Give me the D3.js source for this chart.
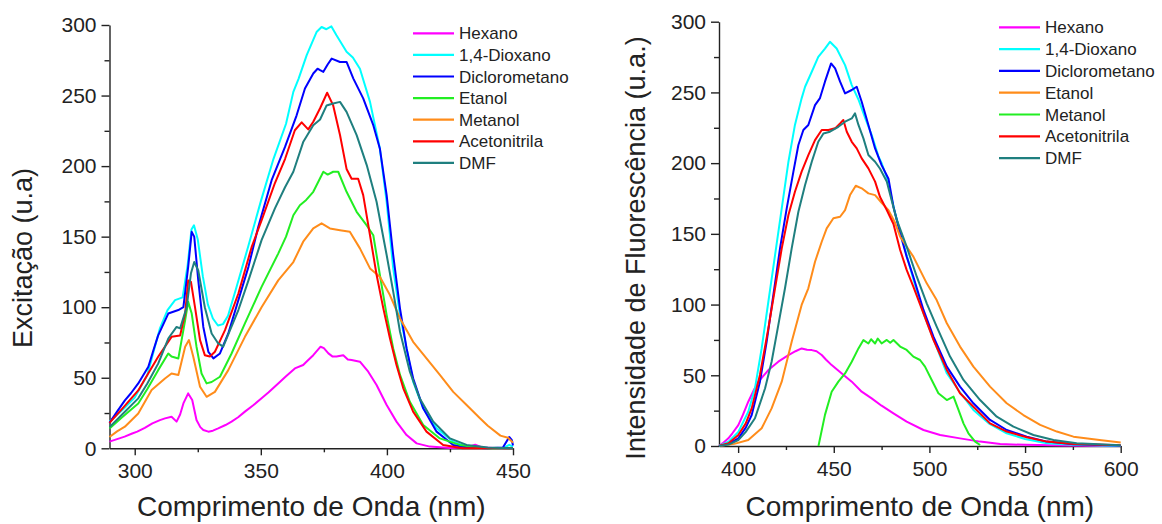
<!DOCTYPE html>
<html lang="pt">
<head>
  <meta charset="UTF-8">
  <script src="https://d3js.org/d3.v7.min.js"></script>
  <title>Excitação e Fluorescência</title>
  <style>
    body { margin: 0; background: #fff; }
    svg { display: block; font-family: "Liberation Sans", Arial, sans-serif; }
    .axis path, .axis line { stroke: #222; stroke-width: 1.4px; }
    .axis text { fill: #222; font-size: 21px; font-family: "Liberation Sans", Arial, sans-serif; }
    .curve { fill: none; stroke-width: 2px; stroke-linejoin: round; }
  </style>
</head>
<body>
<div id="wrapper"></div>
<script>
// ---- dados: excitação (esquerda) ----
const exHexano = [[290,4.7],[293,6.5],[296,8.3],[299,10.5],[301,11.8],[304,14.5],[307,17.7],[310,20],[312,21.2],[314.6,22.4],[316.6,18.9],[318,24],[319.3,31.8],[321.2,38.9],[322.8,34.2],[324.5,20],[326,15],[327.2,13],[329.2,11.8],[331,12.5],[333.1,14.1],[336,16.5],[338.4,18.9],[341,22],[343.7,26],[347,30.5],[350.3,35.4],[353,39.5],[356.9,46],[360,51],[363.5,56.6],[366.8,59],[368.5,62],[370.8,66],[373.7,72],[375,71],[376.8,67.3],[378.5,65],[380,65],[382.7,66],[384.5,63],[386,62.6],[389.3,61.4],[392.6,54.3],[395.9,44.9],[399.9,30.7],[403.8,18.9],[407.8,9.4],[411.8,3.5],[417,1.2],[425,0.3],[432,0.8],[435,2.5],[438,0.5],[445,0],[450,0]];
const exDioxano = [[290,19],[295,27],[300,36],[305,52],[308,72],[310,85],[313,98],[316,105],[319,107],[321,130],[322.5,155],[323.5,158],[325,148],[327,122],[329,102],[331,92],[333,87],[335,88],[337,94],[340,112],[345,143],[350,175],[355,205],[360,230],[362.9,252.6],[365,262],[368.2,278.6],[372.1,295],[374.1,298.6],[376,297],[378,299],[380,292.7],[384,281],[386.5,277],[389.3,269],[393.3,245.5],[397.2,212.5],[399.9,174.7],[402.5,127.5],[405.2,94.4],[407.8,70.8],[410.4,47.2],[414.4,28.3],[419.7,14.2],[426.3,4.7],[431.6,1.2],[440,0],[446,0],[448.5,2.5],[450,1]];
const exDiclorometano = [[290,18],[293,26],[296.1,34],[298.5,39],[301.4,46],[305.4,57.8],[307.5,70],[309.3,80],[313.3,95.5],[317.3,98],[319.3,100],[321.2,128.6],[322.6,153.4],[323.6,150],[325.2,119],[327.2,86],[329.2,68.4],[331.2,63.7],[333.8,67.2],[337.1,81.4],[341.1,105],[345.1,128.6],[349,157],[354.3,190],[359.6,213.6],[364.2,236],[367.5,255],[370.8,265.6],[372.5,269],[373.5,268],[374.8,266.8],[376.5,272],[378.1,276.2],[381.4,273.8],[384,273.8],[386.7,262],[390.6,248],[394.6,229],[397.2,212.5],[399.9,179.4],[402.5,137],[405.2,99],[407.8,70.8],[410.4,49.6],[414.4,28.3],[419.7,11.8],[426.3,2.4],[432,0.5],[440,0],[446,0.5],[448.5,8],[449.5,6],[450,2]];
const exEtanol = [[290,14],[295,22],[301.4,31.8],[305,42],[309.3,55.4],[313.3,67.2],[314.6,65],[317.3,63.7],[320,90.8],[321.2,103.8],[322.6,95.5],[324.5,72],[326.5,53],[328.5,46],[330.5,47],[333.8,50.7],[338.4,67.2],[343.7,88.5],[350.3,114.4],[356.9,138],[360,150],[362.9,165.2],[365.5,172.3],[368,176],[370.8,181.8],[374.8,196],[376.5,194],[378.7,196],[380.7,196],[384,181.8],[388,167.6],[392,158],[394.6,151],[397.2,123],[399.9,94.4],[402.5,70.8],[405.2,52],[409.1,33],[414.4,16.5],[421,7],[428.9,2.4],[440,0],[450,0]];
const exMetanol = [[290,8],[293,12],[296.1,15.3],[301.4,24.7],[306.7,41.3],[312,49.5],[314.6,53],[317.3,52],[320,72],[321.5,76.7],[323.2,65],[325.9,43.6],[328.5,36.5],[331.8,40],[337.1,55.4],[343.7,79],[350.3,100],[356.9,119],[362.9,132],[366.8,146.4],[370.8,155.8],[374.1,159.4],[377.4,155.8],[381.4,154.6],[385.3,153.5],[389.3,141.7],[393.3,127.5],[397.2,121.6],[401.2,108.6],[405.2,92],[410.4,75.5],[415.7,63.7],[421,52],[426.3,40],[431.6,30.7],[436.9,21.3],[440,16],[445,9],[448,7.5],[450,4]];
const exAcetonitrila = [[290,18],[295,28],[301.4,41],[305,52],[309.3,64.9],[314.6,79],[318,80],[320,95.5],[321.2,119],[322.3,118],[323.9,100],[325.9,76.7],[327.8,66],[329.8,65],[331.8,68.4],[335.8,83.7],[341.1,109.7],[346.4,142.8],[350.3,161.6],[355.6,188],[359.6,205],[363.5,225.4],[366.2,231],[368.8,226],[370.8,231.4],[373.5,241],[376.3,252],[378.7,243],[381.4,222],[384,198],[386,191],[388.6,191],[390.6,179.4],[393.3,151],[395.9,123],[398.6,99],[401.2,78],[403.8,59],[406.5,42.5],[410.4,26],[415.7,11.8],[422.3,2.4],[430,0],[450,0]];
const exDMF = [[290,15],[295,24],[301.4,35.4],[305,46],[309.3,60],[313.3,77.8],[316.6,86],[318,85],[320.6,100],[322.3,124],[323.6,132],[325.2,126],[327.8,100],[330.5,81.4],[333.1,74.3],[335.1,72],[337.8,83.7],[341.1,98],[345.1,119],[350.3,147.5],[355.6,170],[359.6,185],[362.9,196],[366.8,217],[370.8,229],[373.5,233],[376.1,243],[378.7,244.4],[381.4,245.5],[384,238.4],[388,222],[392,200.7],[395.9,174.7],[399.9,137],[402.5,111],[405.2,82.6],[409.1,54.3],[413,35.4],[418.4,18.9],[425,7],[431.6,2.4],[440,0.5],[450,0]];

// ---- dados: fluorescência (direita) ----
const flHexano = [[390,0],[392,2],[394.9,5.4],[397,9],[400.1,14.8],[402.5,22],[405.3,31.3],[408,39],[410.6,45.5],[415.8,53.7],[421,59.6],[426.3,64.3],[430,67],[433.2,69],[436,68],[438.5,67.8],[441,67],[443.7,64.3],[446,61],[448.9,57.2],[454.2,51.3],[459.4,45.5],[464.6,38.4],[469.8,33.7],[475,28.5],[481.2,23.1],[488.1,17.2],[496.9,11.3],[505.6,7.8],[516,5.4],[526.5,3.1],[537,1.4],[550,0.8],[570,0.3],[600,0]];
const flDioxano = [[390,0],[395,3],[400.1,10],[405.3,24.2],[408.8,40.8],[412.3,69],[415.8,102],[419.3,135],[422.8,168],[426.3,201],[429.7,227],[433.2,245.8],[435,254],[438.5,264.6],[441.9,275.2],[445.4,281],[448,285.8],[451.5,281],[455.9,269.3],[459.4,255.2],[462.9,245],[466.4,232],[469.8,220],[473.3,205],[475,200],[477.7,190],[482,165],[485,150],[491.6,118],[496.9,93.8],[502,76],[509.1,51.4],[516,38],[523,25.5],[531,16],[540.4,9],[550,5],[561.4,1.9],[575,0.8],[600,0]];
const flDiclorometano = [[390,0],[395,1.5],[400.1,5.4],[404,13],[407.1,21.9],[411.4,45.5],[414.9,73.7],[418.4,106.7],[421.9,139.7],[425.4,168],[428.9,194],[431.5,212.8],[434.1,223.4],[436.7,227],[440.2,241],[442.8,246],[445.4,257.6],[448.6,270.5],[450.7,267],[453.3,257.6],[455.9,249.3],[459.4,251.7],[462,254],[464.6,243.4],[468.1,227],[471.6,210.4],[475,198.6],[478.6,189],[481.2,169.2],[484.7,150.4],[488.1,133.9],[491.6,119.7],[496.9,96.2],[502.1,77.3],[509.1,56.1],[516,42],[523,30.2],[531.7,18.4],[540.4,11.3],[550.9,6.6],[561.4,3.1],[575.3,1.2],[600,0.3]];
const flEtanol = [[390,0],[398,1.5],[405.3,4.2],[412.3,12.5],[417.5,26.6],[422.8,45.5],[428,73.7],[433.2,99.7],[436.7,111.5],[440.2,130.3],[443.7,144.4],[446.3,153.9],[449.8,161],[453.3,162.1],[455.9,166.8],[458.5,177.4],[461.5,184],[464.6,182.2],[468.1,178.6],[471.6,177.4],[475,172],[478.6,166.8],[482,158],[484.7,148],[491.6,133.9],[498.6,115],[503.8,103.2],[509.1,86.8],[516,70.3],[523,56.1],[531.7,42],[540.4,30.2],[549.1,21.9],[557.9,14.9],[566.6,10.2],[575.3,6.6],[590,4],[600,2.5]];
const flMetanol = [[442,0],[445.4,22],[448.9,38.4],[452.4,45.5],[455.9,51.3],[459.4,59.6],[462.9,69],[465.5,74.9],[468.1,72.5],[469.5,75.5],[471.6,72.5],[473,76],[475,72.5],[477.7,75],[479.5,73],[481.2,75],[484.7,70.3],[488.1,67.9],[491.6,63.2],[495.1,60.8],[497.7,56.1],[501.2,46.7],[504.7,37.3],[509.1,32.5],[512.6,34.9],[515.2,25.5],[517.8,16],[520.4,9],[523.9,3.1],[526.5,0.7]];
const flAcetonitrila = [[390,0],[395,2],[400.1,7.8],[404,16],[407.1,26.6],[411.4,50.2],[415.8,83.2],[419.3,111.5],[422.8,139.7],[426.3,163.3],[429.7,179.8],[433.2,194],[436.7,205.7],[440.2,216.3],[443.7,223.4],[447.2,223.4],[450.7,224.6],[453.3,228.1],[455,230.5],[456.8,222.2],[459.4,215.1],[462,210.4],[464.6,203.4],[468.1,196.3],[471.6,186.9],[474.2,176],[477.7,166.9],[481.2,157],[484.7,138.6],[488.1,124.5],[491.6,112.7],[496.9,93.8],[502.1,75],[509.1,53.8],[516,37.3],[523,27.8],[531.7,16],[540.4,10.2],[550.9,6.2],[561.4,3.1],[575.3,1.4],[600,0.5]];
const flDMF = [[390,0],[395,1],[400.1,4.2],[404,10],[408.8,19.6],[414.1,40.8],[417.5,59.6],[421,85.5],[424.5,111.5],[428,139.7],[431.5,165.6],[435,184.5],[438.5,201],[441.9,215.1],[444.6,221],[448,222.2],[452.4,225.7],[455.9,229.3],[459.4,231.6],[461.1,235.2],[462.9,227],[465.5,217.5],[468.1,205.7],[471.6,201],[474.2,196],[477.7,187],[482.9,160],[488.1,141],[493.4,119.7],[498.6,100.9],[503.8,84.4],[510.8,63.2],[517.8,46.7],[526.5,32.5],[535.2,20.7],[543.9,13.7],[554.4,7.8],[564.9,4.2],[577,1.9],[600,0.5]];

const exNames = ["Hexano", "1,4-Dioxano", "Diclorometano", "Etanol", "Metanol", "Acetonitrila", "DMF"];
const exSeries = [exHexano, exDioxano, exDiclorometano, exEtanol, exMetanol, exAcetonitrila, exDMF];
const exColors = ["#ff00ff", "#00ffff", "#0000ff", "#22ee22", "#ff8c1a", "#ff0000", "#1f7f7f"];

const flNames = ["Hexano", "1,4-Dioxano", "Diclorometano", "Etanol", "Metanol", "Acetonitrila", "DMF"];
const flSeries = [flHexano, flDioxano, flDiclorometano, flEtanol, flMetanol, flAcetonitrila, flDMF];
const flColors = ["#ff00ff", "#00ffff", "#0000ff", "#ff8c1a", "#22ee22", "#ff0000", "#1f7f7f"];

const yTicks = [0, 50, 100, 150, 200, 250, 300];

const svg = d3.select("#wrapper")
  .append("svg")
  .attr("width", 1162)
  .attr("height", 524)

function drawPanel(opt) {
  const x = d3.scaleLinear().domain(opt.xDomain).range([opt.left, opt.right])
  const y = d3.scaleLinear().domain([0, 300]).range([opt.bottom, opt.top])
  const g = svg.append("g")

  // minor ticks first, then major axes on top
  g.append("g").attr("class", "axis")
    .attr("transform", `translate(0,${opt.bottom})`)
    .call(d3.axisBottom(x).tickValues(opt.xMinor).tickSize(4).tickFormat(""))
    .select(".domain").remove()
  g.append("g").attr("class", "axis")
    .attr("transform", `translate(${opt.left},0)`)
    .call(d3.axisLeft(y).tickValues(d3.range(25, 300, 50)).tickSize(5).tickFormat(""))
    .select(".domain").remove()

  g.append("g").attr("class", "axis")
    .attr("transform", `translate(0,${opt.bottom})`)
    .call(d3.axisBottom(x).tickValues(opt.xTicks).tickSize(7).tickPadding(8).tickSizeOuter(0))
  g.append("g").attr("class", "axis")
    .attr("transform", `translate(${opt.left},0)`)
    .call(d3.axisLeft(y).tickValues(yTicks).tickSize(8).tickPadding(5).tickSizeOuter(0))

  const line = d3.line().x(d => x(d[0])).y(d => y(d[1]))
  opt.series.forEach((s, i) => {
    g.append("path")
      .attr("class", "curve")
      .attr("d", line(s))
      .attr("stroke", opt.colors[i])
  })

  // legend
  const leg = g.append("g")
  opt.names.forEach((n, i) => {
    const yy = opt.legY + i * opt.legStep
    leg.append("line")
      .attr("x1", opt.legX).attr("x2", opt.legX + 41)
      .attr("y1", yy).attr("y2", yy)
      .attr("stroke", opt.colors[i]).attr("stroke-width", 2.2)
    leg.append("text")
      .attr("x", opt.legX + 46).attr("y", yy)
      .attr("dy", "0.36em")
      .style("font-size", "17px").attr("fill", "#222")
      .text(n)
  })

  // axis titles
  g.append("text")
    .attr("x", (opt.left + opt.right) / 2).attr("y", 516)
    .attr("text-anchor", "middle")
    .style("font-size", "28px").attr("fill", "#222")
    .text("Comprimento de Onda (nm)")
  g.append("text")
    .attr("transform", `translate(${opt.yTitleX},${opt.yTitleY}) rotate(-90)`)
    .attr("text-anchor", "middle")
    .style("font-size", "27px").attr("fill", "#222")
    .text(opt.yTitle)
}

drawPanel({
  xDomain: [290, 450], left: 109.5, right: 513, top: 25, bottom: 448.3,
  xTicks: [300, 350, 400, 450], xMinor: [325, 375, 425],
  series: exSeries, colors: exColors, names: exNames,
  legX: 413, legY: 33.3, legStep: 21.6,
  yTitleX: 32, yTitleY: 258, yTitle: "Excitação (u.a)"
})

drawPanel({
  xDomain: [390, 600], left: 719, right: 1120.7, top: 21.7, bottom: 446,
  xTicks: [400, 450, 500, 550, 600], xMinor: [425, 475, 525, 575],
  series: flSeries, colors: flColors, names: flNames,
  legX: 999, legY: 27.3, legStep: 21.8,
  yTitleX: 645, yTitleY: 248, yTitle: "Intensidade de Fluorescência (u.a.)"
})
</script>
</body>
</html>
